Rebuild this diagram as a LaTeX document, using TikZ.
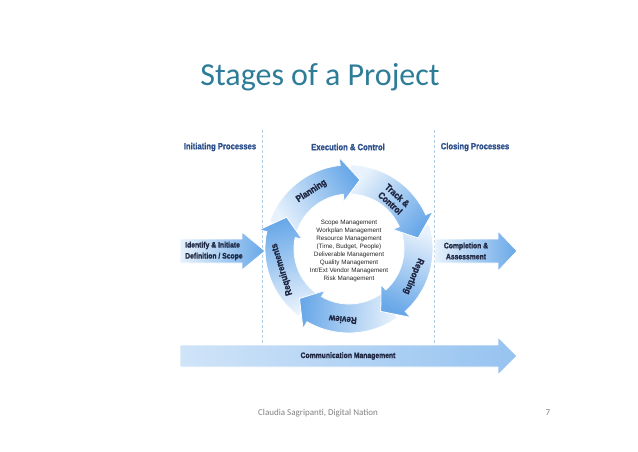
\documentclass[tikz,border=0pt]{standalone}
\usepackage{fontspec}
\setmainfont{Liberation Sans}
\newfontfamily\titlefont{Carlito}
\newfontfamily\condb[FakeStretch=0.85,FakeBold=1.2]{Liberation Sans Bold}
\definecolor{titleteal}{RGB}{45,125,152}
\definecolor{arrowlight}{RGB}{232,242,252}
\definecolor{arrowdark}{RGB}{105,168,232}
\definecolor{commlight}{RGB}{208,228,248}
\definecolor{commdark}{RGB}{150,195,240}
\definecolor{labelnavy}{RGB}{30,38,65}
\definecolor{headblue}{RGB}{45,80,140}
\definecolor{dashblue}{RGB}{175,205,230}
\definecolor{footgray}{RGB}{130,130,130}
\newcommand{\ringarrow}[1]{%
  \pgfmathsetmacro{\tA}{#1}%
  \pgfmathsetmacro{\bA}{#1+15}%
  \pgfmathsetmacro{\sA}{#1+80}%
  \pgfmathsetmacro{\gA}{#1-140}%
  \path[ringshade=\gA] (\sA:84) arc[start angle=\sA, end angle=\bA, radius=84]
    -- (\bA:92) -- (\tA:70) -- (\bA:48) -- (\bA:55)
    arc[start angle=\bA, end angle=\sA, radius=55] -- cycle;}
\begin{document}
\begin{tikzpicture}[x=1pt,y=1pt,
  ringshade/.style={top color=arrowdark, bottom color=arrowlight, shading angle=#1, draw=white, line width=0.8pt},
  flatarrow/.style={left color=arrowlight, right color=arrowdark, draw=white, line width=0.8pt},
  header/.style={font=\condb\fontsize{9}{10}\selectfont, text=headblue, inner sep=0pt},
  boxtext/.style={font=\condb\fontsize{8}{11}\selectfont, text=labelnavy, inner sep=0pt},
  ringlabel/.style={font=\condb\fontsize{9.5}{10.5}\selectfont, text=labelnavy, inner sep=0pt, align=center},
  dashline/.style={draw=dashblue, dashed, dash pattern=on 3pt off 2pt, line width=0.6pt}]
\useasboundingbox (0,0) rectangle (638,451);
\fill[white] (0,0) rectangle (638,451);
% title
\node[font=\titlefont\fontsize{32}{32}\selectfont, text=titleteal, anchor=base, inner sep=0pt] (title) at (320,365) {Stages of a Project};
% dashed separators
\coordinate (d1t) at (262,321); \coordinate (d1b) at (262,106);
\coordinate (d2t) at (434,321); \coordinate (d2b) at (434,106);
\draw[dashline] (d1t) -- (d1b);
\draw[dashline] (d2t) -- (d2b);
% headers
\node[header] (h1) at (220,304) {Initiating Processes};
\node[header] (h2) at (348,304) {Execution \& Control};
\node[header] (h3) at (475,304) {Closing Processes};
% communication arrow
\path[left color=commlight, right color=commdark, draw=white, line width=0.8pt]
  (180,84) -- (498,84) -- (498,76) -- (517,95) -- (498,114) -- (498,106) -- (180,106) -- cycle;
\node[boxtext] (comm) at (348,95) {Communication Management};
% identify arrow
\path[flatarrow] (180,188) -- (242,188) -- (242,181) -- (265,200) -- (242,219) -- (242,212) -- (180,212) -- cycle;
\node[boxtext, align=left, anchor=west] (ident) at (185,200) {Identify \& Initiate\\Definition / Scope};
% completion arrow
\path[flatarrow] (435,188) -- (498,188) -- (498,180) -- (517,200) -- (498,220) -- (498,212) -- (435,212) -- cycle;
\node[boxtext, align=center] (compl) at (466,200) {Completion \&\\Assessment};
% ring
\begin{scope}[shift={(349,202)}]
  \ringarrow{81}
  \ringarrow{153}
  \ringarrow{-135}
  \ringarrow{-63}
  \ringarrow{9}
  \begin{scope}
    \clip (0,0) -- (74:100) arc[start angle=74, end angle=100, radius=100] -- cycle;
    \ringarrow{81}
  \end{scope}
  \node[ringlabel, rotate=33] (planning) at (123:69) {Planning};
  \node[ringlabel, rotate=-42] (track) at (48:67) {Track \&\\Control};
  \node[ringlabel, rotate=-113] (reporting) at (-23:70) {Reporting};
  \node[ringlabel, rotate=-185] (review) at (-95:71) {Review};
  \node[ringlabel, rotate=107] (requirements) at (197:70) {Requirements};
  \node[font=\fontsize{6.3}{8.1}\selectfont, align=center, text=black!85, inner sep=0pt] (tasks) at (0,-2)
    {Scope Management\\Workplan Management\\Resource Management\\(Time, Budget, People)\\Deliverable Management\\Quality Management\\Int/Ext Vendor Management\\Risk Management};
\end{scope}
% footer
\node[font=\titlefont\fontsize{9}{9}\selectfont, text=footgray, anchor=west, inner sep=0pt] (foot) at (258,38) {Claudia Sagripanti, Digital Nation};
\node[font=\titlefont\fontsize{9}{9}\selectfont, text=footgray, inner sep=0pt] (page) at (548,38) {7};
\end{tikzpicture}
\end{document}
